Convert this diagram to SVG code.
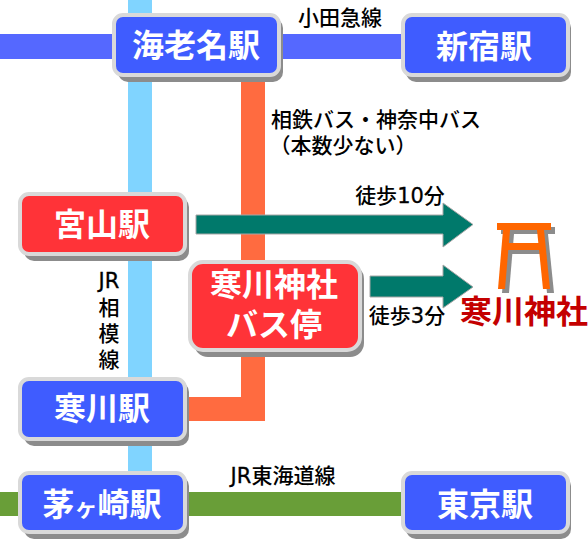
<svg xmlns="http://www.w3.org/2000/svg" width="588" height="539" viewBox="0 0 588 539">
<style>
.sh{fill:#8c8c8c}
.b{stroke:#d9d9d9;stroke-width:4}
.blue{fill:#3f5cff}
.red{fill:#ff3338}
.t{font-family:"Noto Sans CJK JP","Noto Sans",sans-serif;font-weight:700;font-size:32px;fill:#fff;text-anchor:middle}
.l{font-family:"Noto Sans CJK JP","Noto Sans",sans-serif;font-weight:500;font-size:21px;fill:#000;text-anchor:middle}
.d{font-family:"DejaVu Sans",sans-serif;font-size:21px;font-weight:400;stroke:#000;stroke-width:.3}
.ar{fill:#00796b;stroke:#a6a6a6;stroke-width:1}
</style>
<rect width="588" height="539" fill="#fff"/>
<g id="connectors">
<rect x="0" y="34" width="402" height="25" fill="#5568ff"/>
<rect x="128" y="0" width="24" height="472" fill="#80d4ff"/>
<path d="M241 78H265V421H188V397H241Z" fill="#ff6b40"/>
<rect x="0" y="492" width="402" height="24" fill="#699e38"/>
<path class="ar" d="M196 215H443V203L473 224.500L443 247V234H196Z"/>
<path class="ar" d="M370 276H443V265L473 287L443 308V297H370Z"/>
</g>
<g id="ebina"><rect class="sh" x="118" y="18" width="165" height="64" rx="10"/><rect class="blue b" x="114" y="15" width="165" height="60" rx="9"/><text class="t" x="196" y="57">海老名駅</text></g>
<g id="shinjuku"><rect class="sh" x="406" y="18" width="165" height="64" rx="10"/><rect class="blue b" x="403" y="15" width="165" height="60" rx="9"/><text class="t" x="484" y="58">新宿駅</text></g>
<g id="miyayama"><rect class="sh" x="24" y="197" width="165" height="64" rx="10"/><rect class="red b" x="20" y="194" width="165" height="60" rx="9"/><text class="t" x="102" y="236">宮山駅</text></g>
<g id="samukawa"><rect class="sh" x="24" y="382" width="165" height="64" rx="10"/><rect class="blue b" x="20" y="379" width="165" height="60" rx="9"/><text class="t" x="102" y="420">寒川駅</text></g>
<g id="chigasaki"><rect class="sh" x="24" y="476" width="165" height="63" rx="10"/><rect class="blue b" x="20" y="473" width="165" height="59" rx="9"/><text class="t" x="102" y="516">茅<tspan font-size="23">ヶ</tspan>崎駅</text></g>
<g id="tokyo"><rect class="sh" x="406" y="476" width="165" height="63" rx="10"/><rect class="blue b" x="403" y="473" width="165" height="59" rx="9"/><text class="t" x="485" y="516">東京駅</text></g>
<g id="busstop"><rect class="sh" x="194" y="265" width="170" height="92" rx="14"/><rect class="red b" x="190" y="262" width="170" height="88" rx="13"/><text class="t" x="274" y="296">寒川神社<tspan x="274" dy="40">バス停</tspan></text></g>
<g id="shrine">
<g fill="#8c8c8c" transform="translate(4 4)"><path d="M497 223H551V230H497Z"/><path d="M503 230H510L505 289H498Z"/><path d="M537 230H544L550 289H543Z"/><path d="M505 243H543V250H505Z"/></g>
<g fill="#ff6600"><path d="M497 223H551V230H497Z"/><path d="M503 230H510L505 289H498Z"/><path d="M537 230H544L550 289H543Z"/><path d="M505 243H543V250H505Z"/></g>
<text x="524" y="323" font-size="32" font-weight="700" text-anchor="middle" fill="#c40000" font-family="'Noto Sans CJK JP',sans-serif">寒川神社</text>
</g>
<g id="labels">
<text class="l" x="340" y="25">小田急線</text>
<text class="l" x="376" y="127">相鉄バス・神奈中バス</text>
<text class="l" x="343" y="153">（本数少ない）</text>
<text class="l" x="400" y="203">徒歩<tspan class="d">10</tspan>分</text>
<text class="l" x="407" y="323">徒歩<tspan class="d">3</tspan>分</text>
<text class="l" x="109" y="288"><tspan class="d">JR</tspan><tspan x="109" dy="27">相</tspan><tspan x="109" dy="26">模</tspan><tspan x="109" dy="26">線</tspan></text>
<text class="l" x="283" y="483"><tspan class="d">JR</tspan>東海道線</text>
</g>
</svg>
